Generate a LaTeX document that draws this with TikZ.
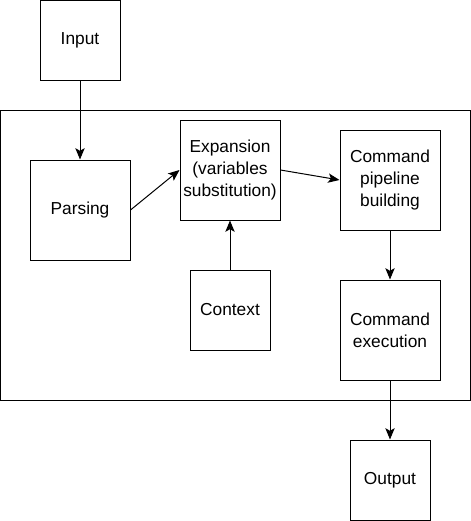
\documentclass[tikz,border=0pt]{standalone}
\usepackage{fontspec}
\setmainfont{Liberation Sans}
\usetikzlibrary{arrows.meta}

\begin{document}
\begin{tikzpicture}[x=0.75pt,y=-0.75pt,>={Stealth[length=8.5pt,width=7pt,inset=2pt]},
                    line width=0.75pt,
                    box/.style={draw,rectangle,align=center,inner sep=0pt,
                      font=\fontsize{13}{16.5}\selectfont},
                    big box/.style={box,minimum width=75pt,minimum height=75pt},
                    small box/.style={box,minimum width=60pt,minimum height=60pt}]

  \useasboundingbox (0,0) rectangle (471,521);

  % outer frame
  \draw (0.5,110) rectangle (470,400);

  \node[small box] (input) at (80,40) {Input};
  \node[big box] (parsing) at (80,210) {Parsing};
  \node[big box] (expansion) at (230,170) {Expansion\\(variables\\substitution)};
  \node[big box] (pipeline) at (390,180) {Command\\pipeline\\building};
  \node[small box] (context) at (230,310) {Context};
  \node[big box] (execution) at (390,330) {Command\\execution};
  \node[small box] (output) at (390,480) {Output};

  \path[->]
    (input) edge (parsing)
    (parsing.east) edge (expansion.west)
    (expansion.east) edge (pipeline.west)
    (context) edge (expansion)
    (pipeline) edge (execution)
    (execution) edge (output)
    ;
\end{tikzpicture}
\end{document}
